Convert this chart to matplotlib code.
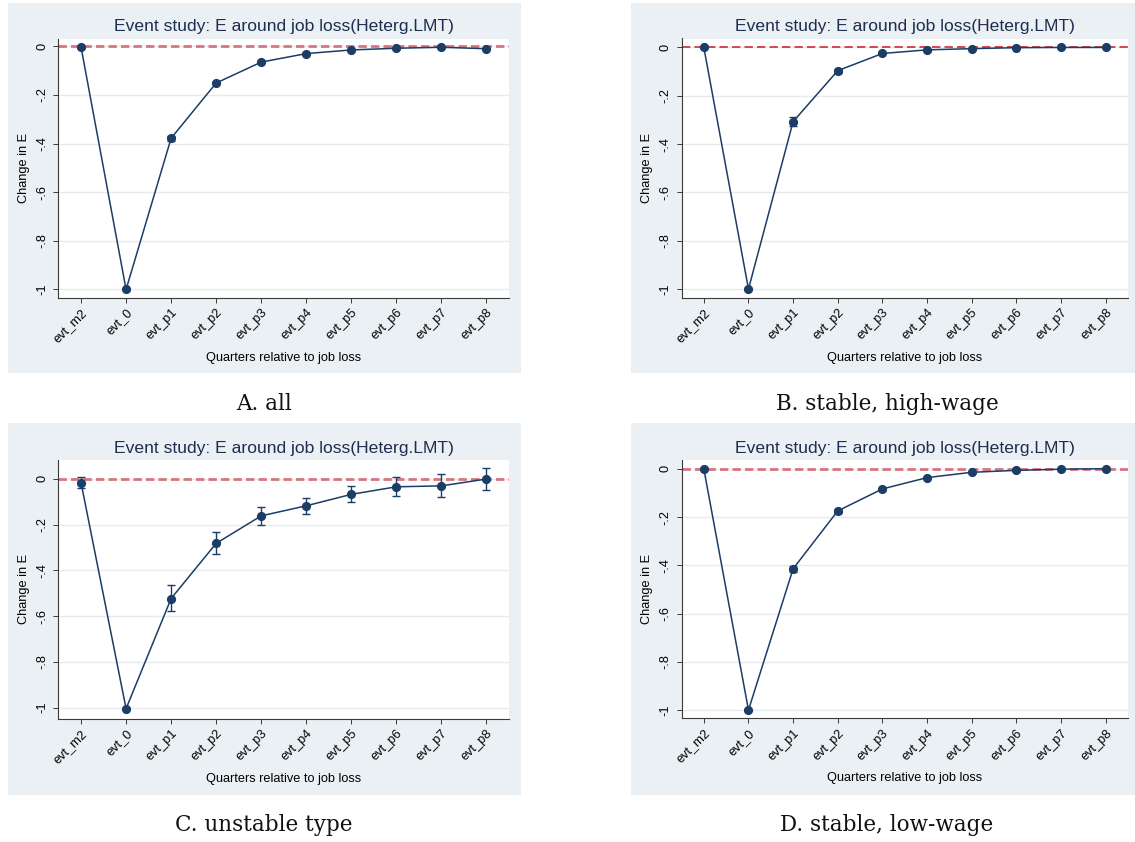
import matplotlib
matplotlib.use("Agg")
import matplotlib.pyplot as plt
from matplotlib.patches import Rectangle

plt.rcParams['lines.scale_dashes'] = False

# ---------------- data ----------------
categories = ["evt_m2", "evt_0", "evt_p1", "evt_p2", "evt_p3",
              "evt_p4", "evt_p5", "evt_p6", "evt_p7", "evt_p8"]
ytick_vals = [0, -0.2, -0.4, -0.6, -0.8, -1.0]
ytick_labels = ["0", "-.2", "-.4", "-.6", "-.8", "-1"]

title_text = "Event study: E around job loss(Heterg.LMT)"
xlabel_text = "Quarters relative to job loss"
ylabel_text = "Change in E"

captions = ["A. all", "B. stable, high-wage", "C. unstable type", "D. stable, low-wage"]

a_mean = [-0.003, -1.000, -0.378, -0.151, -0.065, -0.030, -0.015, -0.008, -0.004, -0.010]
a_lo   = [-0.006, -1.003, -0.389, -0.157, -0.069, -0.033, -0.018, -0.011, -0.007, -0.013]
a_hi   = [ 0.000, -0.997, -0.367, -0.145, -0.061, -0.027, -0.012, -0.005, -0.001, -0.006]

b_mean = [ 0.000, -1.000, -0.307, -0.096, -0.025, -0.010, -0.005, -0.001,  0.000,  0.000]
b_lo   = [-0.002, -1.002, -0.325, -0.104, -0.029, -0.013, -0.007, -0.003, -0.002, -0.002]
b_hi   = [ 0.002, -0.998, -0.289, -0.088, -0.021, -0.007, -0.003,  0.001,  0.002,  0.002]

c_mean = [-0.017, -1.004, -0.523, -0.282, -0.162, -0.118, -0.068, -0.035, -0.031, -0.001]
c_lo   = [-0.042, -1.006, -0.579, -0.330, -0.201, -0.154, -0.103, -0.077, -0.079, -0.049]
c_hi   = [ 0.006, -1.002, -0.466, -0.234, -0.122, -0.082, -0.032,  0.006,  0.019,  0.048]

d_mean = [ 0.000, -1.000, -0.414, -0.174, -0.083, -0.036, -0.014, -0.006, -0.001,  0.001]
d_lo   = [-0.002, -1.002, -0.426, -0.182, -0.087, -0.039, -0.016, -0.008, -0.003, -0.001]
d_hi   = [ 0.002, -0.998, -0.402, -0.166, -0.079, -0.033, -0.012, -0.004,  0.001,  0.003]

# ---------------- styling ----------------
W, H = 1135, 842
BG = "#eaf0f3"
NAVY = "#1b3d66"
TITLE_C = "#1f2d4f"
GRID_C = "#e4ecef"

fig = plt.figure(figsize=(W / 100, H / 100), dpi=100)
fig.patch.set_facecolor("white")

def fx(px):
    return px / W

def fy(py):
    return 1 - py / H

panels = [
    (a_mean, a_lo, a_hi, (8, 521, 3, 373), (58.5, 509, 39, 297.5), (-1.033, 0.030), "#d9747f", 2.0, (264, 404)),
    (b_mean, b_lo, b_hi, (631, 1135, 3, 373), (681.5, 1128, 38.5, 297.5), (-1.035, 0.037), "#d23a42", 1.3, (887, 404)),
    (c_mean, c_lo, c_hi, (8, 521, 423, 795), (58.5, 509, 460, 718.5), (-1.047, 0.082), "#d9747f", 2.0, (264, 825)),
    (d_mean, d_lo, d_hi, (631, 1135, 423, 795), (681.5, 1128, 460, 718), (-1.033, 0.037), "#d9747f", 2.0, (887, 825)),
]

x = list(range(len(categories)))

for i, (mean, lo, hi, gbox, abox, ylim, red_c, red_lw, cap_xy) in enumerate(panels):
    gx0, gx1, gy0, gy1 = gbox
    fig.patches.append(Rectangle((fx(gx0), fy(gy1)), fx(gx1 - gx0), (gy1 - gy0) / H,
                                 transform=fig.transFigure, facecolor=BG,
                                 edgecolor="none", zorder=-5))
    l, r, t, b = abox
    ax = fig.add_axes([fx(l), fy(b), fx(r - l), (b - t) / H])
    ax.set_zorder(1)
    ax.set_facecolor("white")
    ax.set_xlim(-0.5, 9.5)
    ax.set_ylim(*ylim)

    for s in ["top", "right"]:
        ax.spines[s].set_visible(False)
    for s in ["left", "bottom"]:
        ax.spines[s].set_color("#3a3a3a")
        ax.spines[s].set_linewidth(0.8)

    ax.set_yticks(ytick_vals)
    ax.set_yticklabels(ytick_labels, rotation=90, va="center",
                       fontfamily="Liberation Sans", fontsize=9.2)
    ax.set_xticks(x)
    ax.set_xticklabels(categories, rotation=45, ha="right", rotation_mode="anchor",
                       fontfamily="Liberation Sans", fontsize=9.2)
    ax.tick_params(axis="both", length=3.6, width=0.7, color="#3a3a3a")
    ax.tick_params(axis="y", pad=3.5)
    ax.tick_params(axis="x", pad=3)

    ax.yaxis.grid(True, color=GRID_C, linewidth=1.0)
    ax.set_axisbelow(True)

    ax.axhline(0, color=red_c, linewidth=red_lw, linestyle=(0, (6, 3)), zorder=2)

    yerr_lo = [m - lv for m, lv in zip(mean, lo)]
    yerr_hi = [hv - m for m, hv in zip(mean, hi)]
    ax.errorbar(x, mean, yerr=[yerr_lo, yerr_hi], fmt="none", ecolor=NAVY,
                elinewidth=1.0, capsize=2.6, capthick=1.0, zorder=3)
    ax.plot(x, mean, color=NAVY, linewidth=1.1, marker="o", markersize=5.6,
            markerfacecolor=NAVY, markeredgecolor=NAVY, zorder=4)

    ax.set_ylabel(ylabel_text, fontfamily="Liberation Sans", fontsize=9.2)
    ax.yaxis.set_label_coords(-28.5 / (r - l), 0.5)
    ax.set_xlabel(xlabel_text, fontfamily="Liberation Sans", fontsize=9.2)
    ax.xaxis.set_label_coords(0.5, -(54.5) / (b - t))

    fig.text(fx((l + r) / 2), fy(t - 12), title_text, ha="center", va="center",
             fontfamily="Liberation Sans", fontsize=12.6, color=TITLE_C)

    fig.text(fx(cap_xy[0]), fy(cap_xy[1]), captions[i], ha="center", va="center",
             fontfamily="DejaVu Serif", fontsize=15.5, color="#111111")

fig.savefig("out.png", dpi=100, facecolor="white")
